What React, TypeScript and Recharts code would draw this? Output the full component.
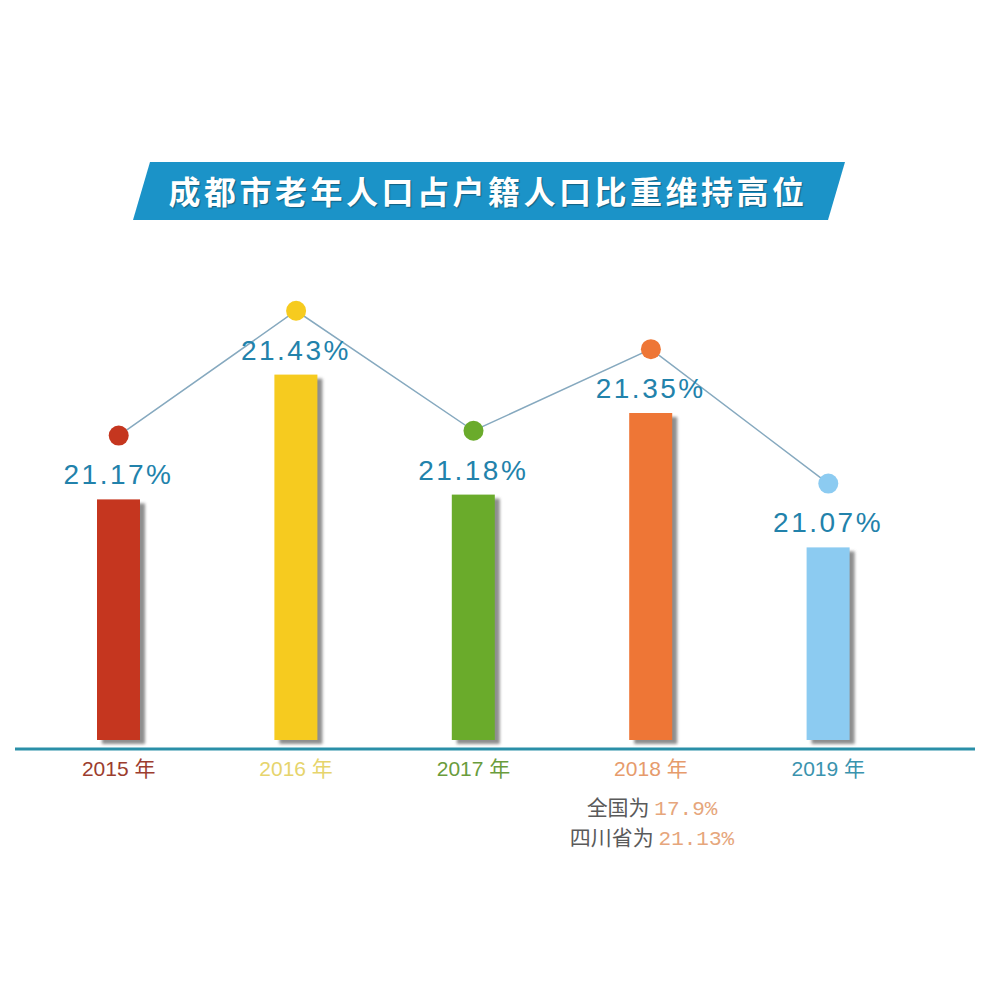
import React from 'react';
import { ComposedChart, Bar, Line, XAxis, YAxis, Cell, LabelList } from 'recharts';

// 成都市老年人口占户籍人口比重
const years = ['2015 年', '2016 年', '2017 年', '2018 年', '2019 年'];
const shares = [21.17, 21.43, 21.18, 21.35, 21.07];
const nationalShare = '17.9%';
const sichuanShare = '21.13%';

const barColors = ['#c5361f', '#f6cb1f', '#6aab2b', '#ee7636', '#8ccbf1'];
const tickColors = ['#9c3d2e', '#e6d46c', '#6a9c3c', '#e69b6c', '#3a93ae'];

const data = years.map((year, i) => ({ year, value: shares[i] }));

const BAR_DOMAIN: [number, number] = [20.65, 21.7];
// dots sit a fixed distance above the bar tops
const LINE_SHIFT = 0.133;
const LINE_DOMAIN: [number, number] = [BAR_DOMAIN[0] - LINE_SHIFT, BAR_DOMAIN[1] - LINE_SHIFT];

const ShadowBar = (props: any) => {
    const { x, y, width, height, fill } = props;
    const h = Math.max(height - 9, 0);
    return (
        <g>
            <rect x={x + 5} y={y + 4} width={width} height={h} fill="#5f5f5f" opacity={0.7} filter="url(#barBlur)" />
            <rect x={x} y={y} width={width} height={h} fill={fill} />
        </g>
    );
};

const ValueLabel = (props: any) => {
    const { x, y, width, value } = props;
    return (
        <text
            x={x + width / 2}
            y={y - 25}
            dy="0.36em"
            textAnchor="middle"
            fill="#2282ab"
            fontSize={28}
            letterSpacing={2.5}
            fontFamily="'Liberation Sans', Arial, sans-serif"
        >
            {value.toFixed(2)}%
        </text>
    );
};

const YearTick = (props: any) => {
    const { x, y, payload, index } = props;
    return (
        <text
            x={x}
            y={y + 11}
            dy="0.36em"
            textAnchor="middle"
            fill={tickColors[index]}
            fontSize={21}
            fontFamily="'Liberation Sans', 'Noto Sans CJK SC', sans-serif"
        >
            {payload.value}
        </text>
    );
};

const renderDot = (props: any) => {
    const { cx, cy, payload } = props;
    const i = years.indexOf(payload.year);
    return <circle key={`dot-${i}`} cx={cx} cy={cy} r={10} fill={barColors[i]} stroke="none" />;
};

const App: React.FC = () => {
    return (
        <div style={{ position: 'absolute', left: 0, top: 0, width: 1000, height: 1000, background: '#ffffff' }}>
            <svg width={1000} height={260} style={{ position: 'absolute', left: 0, top: 0 }}>
                <polygon points="150,162 845,162 828,220 133,220" fill="#1b93c8" />
                <text
                    x={488}
                    y={192}
                    dy="0.36em"
                    textAnchor="middle"
                    fill="#ffffff"
                    fontSize={32}
                    fontWeight={700}
                    letterSpacing={3.5}
                    fontFamily="'Noto Sans CJK SC', sans-serif"
                    style={{ textShadow: '1px 1px 1px rgba(0,0,0,0.35)' }}
                >
                    成都市老年人口占户籍人口比重维持高位
                </text>
            </svg>
            <div style={{ position: 'absolute', left: 0, top: 0 }}>
                <ComposedChart
                    width={1000}
                    height={1000}
                    data={data}
                    margin={{ top: 245, right: 25, bottom: 211, left: 15 }}
                >
                    <defs>
                        <filter id="barBlur" x="-20%" y="-5%" width="140%" height="110%">
                            <feGaussianBlur stdDeviation="1.5" />
                        </filter>
                    </defs>
                    <XAxis
                        dataKey="year"
                        height={40}
                        padding={{ left: 15, right: 58 }}
                        axisLine={{ stroke: '#2a8fa8', strokeWidth: 3 }}
                        tickLine={false}
                        tick={<YearTick />}
                        interval={0}
                    />
                    <YAxis yAxisId="bar" hide domain={BAR_DOMAIN} allowDataOverflow />
                    <YAxis yAxisId="line" hide domain={LINE_DOMAIN} allowDataOverflow />
                    <Bar yAxisId="bar" dataKey="value" barSize={43} shape={<ShadowBar />} isAnimationActive={false}>
                        {data.map((entry, index) => (
                            <Cell key={`cell-${index}`} fill={barColors[index]} />
                        ))}
                        <LabelList dataKey="value" content={<ValueLabel />} />
                    </Bar>
                    <Line
                        yAxisId="line"
                        type="linear"
                        dataKey="value"
                        stroke="#86a9bf"
                        strokeWidth={1.5}
                        dot={renderDot}
                        activeDot={false}
                        isAnimationActive={false}
                    />
                </ComposedChart>
            </div>
            <svg width={1000} height={120} style={{ position: 'absolute', left: 0, top: 780 }}>
                <text x={652} y={27} dy="0.36em" textAnchor="middle" fontSize={21}>
                    <tspan fill="#5a5a5a" fontFamily="'Noto Sans CJK SC', sans-serif">全国为 </tspan>
                    <tspan fill="#e6a67c" fontFamily="'Liberation Mono', 'DejaVu Sans Mono', monospace">{nationalShare}</tspan>
                </text>
                <text x={652} y={57} dy="0.36em" textAnchor="middle" fontSize={21}>
                    <tspan fill="#5a5a5a" fontFamily="'Noto Sans CJK SC', sans-serif">四川省为 </tspan>
                    <tspan fill="#e6a67c" fontFamily="'Liberation Mono', 'DejaVu Sans Mono', monospace">{sichuanShare}</tspan>
                </text>
            </svg>
        </div>
    );
};

export default App;
